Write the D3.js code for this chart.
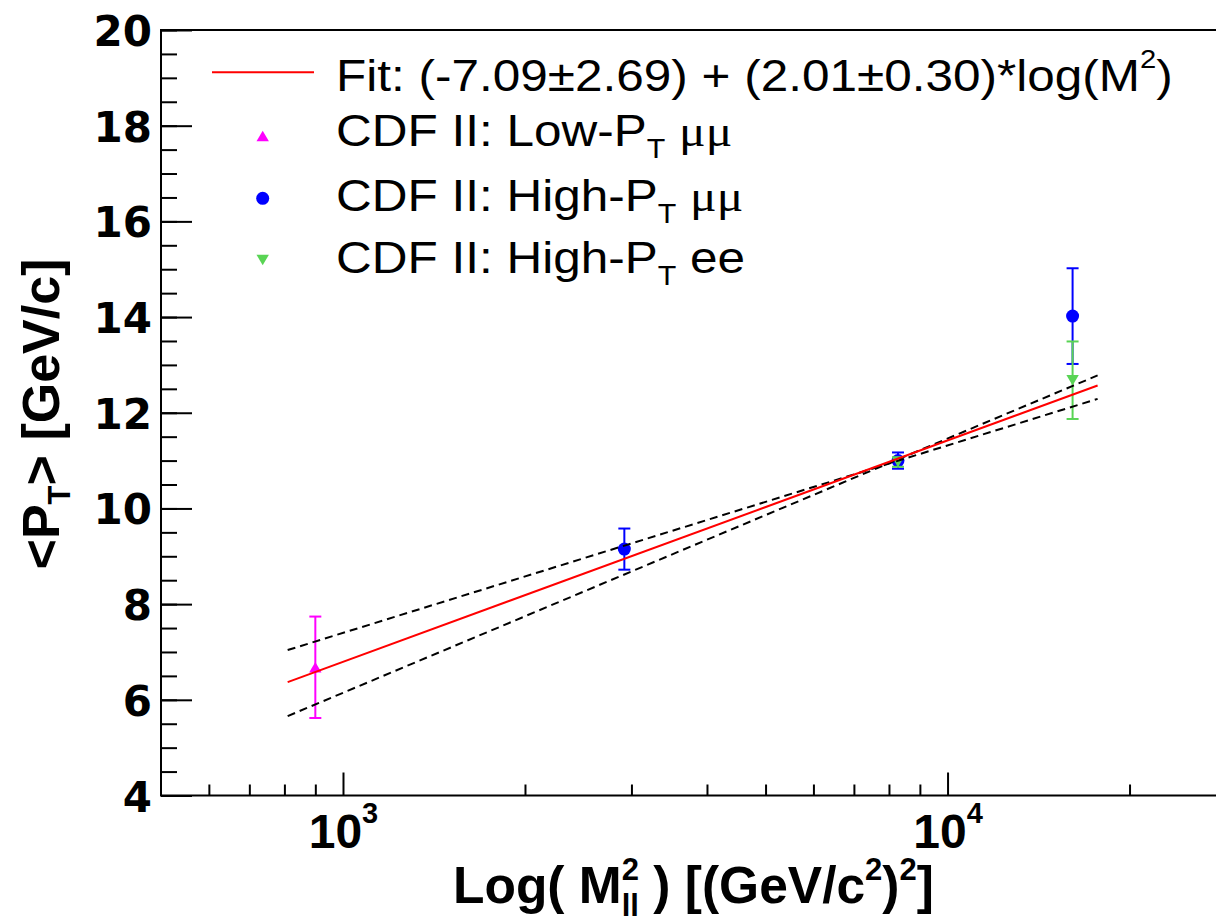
<!DOCTYPE html>
<html><head><meta charset="utf-8">
<script src="https://cdn.jsdelivr.net/npm/d3@7"></script>
<style>body{margin:0;background:#fff}svg{display:block}</style>
</head><body>
<svg id="c" width="1216" height="923"></svg>
<script>
// ---------------- data ----------------
const lowMuMuM2 = [900];
const lowMuMuPt = [6.68];
const lowMuMuErr = [1.06];

const highMuMuM2 = [2920, 8280, 16100];
const highMuMuPt = [9.15, 11.00, 14.02];
const highMuMuErr = [0.43, 0.17, 1.00];

const highEEM2 = [8280, 16100];
const highEEPt = [10.97, 12.68];
const highEEErr = [0.10, 0.81];

// fit line and its two band lines, read at the ends of the drawn range
const fitM2 = [810, 17710];
const fitPt = [6.37, 12.57];
const bandShallowPt = [7.04, 12.29];
const bandSteepPt = [5.66, 12.78];

const yMajorTicks = [4, 6, 8, 10, 12, 14, 16, 18, 20];
const yMinorTicks = d3.range(4, 20.001, 0.5);
const xMajorTicks = [1000, 10000];
const xMajorExponents = ["3", "4"];
const xMinorTicks = [600, 700, 800, 900, 2000, 3000, 4000, 5000, 6000, 7000, 8000, 9000, 20000];

const legendFit = "Fit: (-7.09\u00b12.69) + (2.01\u00b10.30)*log(M";
const legendSeries = ["CDF II: Low-P", "CDF II: High-P", "CDF II: High-P"];
const legendSuffix = ["\u03bc\u03bc", "\u03bc\u03bc", "ee"];

const colMagenta = "#ff00ff", colBlue = "#0000ff", colGreen = "#59d454", colRed = "#ff0000";

// ---------------- layout ----------------
const svg = d3.select("#c");
const pL = 161, pR = 1216, pT = 30, pB = 795.5;
const x = d3.scaleLog().domain([500, 27800]).range([pL, pR]);
const y = d3.scaleLinear().domain([4, 20]).range([pB, pT]);

// frame
svg.append("rect").attr("x", pL).attr("y", pT)
  .attr("width", pR - pL + 6).attr("height", pB - pT)
  .attr("fill", "none").attr("stroke", "#000").attr("stroke-width", 2);

// y axis
const yMinor = svg.append("g").attr("transform", `translate(${pL},0)`)
  .call(d3.axisLeft(y).tickValues(yMinorTicks).tickSize(-16).tickFormat(""));
yMinor.select(".domain").remove();
yMinor.selectAll("line").attr("stroke", "#000").attr("stroke-width", 2);

const yMajor = svg.append("g").attr("transform", `translate(${pL},0)`)
  .call(d3.axisLeft(y).tickValues(yMajorTicks).tickSize(-31).tickPadding(9).tickFormat(d3.format("d")));
yMajor.select(".domain").remove();
yMajor.selectAll("line").attr("stroke", "#000").attr("stroke-width", 2);
yMajor.selectAll("text").attr("font-family", "'DejaVu Sans'").attr("font-weight", "bold")
  .attr("font-size", 42).attr("fill", "#000").attr("dy", "0.37em");

// x axis
const xMinor = svg.append("g").attr("transform", `translate(0,${pB})`)
  .call(d3.axisBottom(x).tickValues(xMinorTicks).tickSize(-11).tickFormat(""));
xMinor.select(".domain").remove();
xMinor.selectAll("line").attr("stroke", "#000").attr("stroke-width", 2);

const xMajor = svg.append("g").attr("transform", `translate(0,${pB})`)
  .call(d3.axisBottom(x).tickValues(xMajorTicks).tickSize(-23).tickPadding(0).tickFormat(""));
xMajor.select(".domain").remove();
xMajor.selectAll("line").attr("stroke", "#000").attr("stroke-width", 2);
xMajor.selectAll(".tick text").each(function(d, i) {
  const t = d3.select(this).attr("y", 52.5).attr("dy", null)
    .attr("font-family", "'Liberation Sans', Arial, sans-serif").attr("font-weight", "bold")
    .attr("font-size", 48).attr("fill", "#000").attr("text-anchor", "middle");
  t.append("tspan").text("10");
  t.append("tspan").attr("font-size", 29).attr("dy", -25).text(xMajorExponents[i]);
});

// axis titles
const base = 903;
const xt = svg.append("text").attr("x", 453).attr("y", base)
  .attr("font-family", "'Liberation Sans', Arial, sans-serif").attr("font-weight", "bold")
  .attr("font-size", 51.5).attr("fill", "#000");
xt.append("tspan").attr("y", base).text("Log( M");
xt.append("tspan").attr("y", base + 13).attr("font-size", 31).text("ll");
xt.append("tspan").attr("y", base - 23).attr("dx", -17.2).attr("font-size", 31).text("2");
xt.append("tspan").attr("y", base).text(" ) [(GeV/c");
xt.append("tspan").attr("y", base - 23).attr("font-size", 31).text("2");
xt.append("tspan").attr("y", base).text(")");
xt.append("tspan").attr("y", base - 23).attr("font-size", 31).text("2");
xt.append("tspan").attr("y", base).text("]");

const yt = svg.append("text").attr("transform", "translate(58.5,414) rotate(-90)")
  .attr("text-anchor", "middle")
  .attr("font-family", "'Liberation Sans', Arial, sans-serif").attr("font-weight", "bold")
  .attr("font-size", 52).attr("fill", "#000");
yt.append("tspan").text("<P");
yt.append("tspan").attr("font-size", 31).attr("dy", 11).text("T");
yt.append("tspan").attr("dy", -11).text("> [GeV/c]");

// ---------------- markers ----------------
function triUp(s) { return `M0,${-s*0.85}L${s},${s*0.85}L${-s},${s*0.85}Z`; }
function triDown(s) { return `M0,${s*0.85}L${s},${-s*0.85}L${-s},${-s*0.85}Z`; }

function drawSeries(xs, ys, es, color, kind) {
  const g = svg.append("g");
  const pts = xs.map((v, i) => ({m: v, p: ys[i], e: es[i]}));
  const eb = g.selectAll(".eb").data(pts).enter().append("g")
    .attr("stroke", color).attr("stroke-width", 2);
  eb.append("line").attr("x1", d => x(d.m)).attr("x2", d => x(d.m))
    .attr("y1", d => y(d.p - d.e)).attr("y2", d => y(d.p + d.e));
  eb.append("line").attr("x1", d => x(d.m) - 6).attr("x2", d => x(d.m) + 6)
    .attr("y1", d => y(d.p + d.e)).attr("y2", d => y(d.p + d.e));
  eb.append("line").attr("x1", d => x(d.m) - 6).attr("x2", d => x(d.m) + 6)
    .attr("y1", d => y(d.p - d.e)).attr("y2", d => y(d.p - d.e));
  const mk = g.selectAll(".mk").data(pts).enter();
  if (kind === "circle") {
    mk.append("circle").attr("cx", d => x(d.m)).attr("cy", d => y(d.p)).attr("r", 6.5).attr("fill", color);
  } else {
    mk.append("path").attr("d", kind === "up" ? triUp(6.2) : triDown(6.2))
      .attr("transform", d => `translate(${x(d.m)},${y(d.p)})`).attr("fill", color);
  }
}
drawSeries(lowMuMuM2, lowMuMuPt, lowMuMuErr, colMagenta, "up");
drawSeries(highMuMuM2, highMuMuPt, highMuMuErr, colBlue, "circle");
drawSeries(highEEM2, highEEPt, highEEErr, colGreen, "down");

// fit lines
const line = d3.line().x(d => x(d[0])).y(d => y(d[1]));
svg.append("path").attr("d", line(fitM2.map((m, i) => [m, bandShallowPt[i]])))
  .attr("fill", "none").attr("stroke", "#000").attr("stroke-width", 2).attr("stroke-dasharray", "8,5");
svg.append("path").attr("d", line(fitM2.map((m, i) => [m, bandSteepPt[i]])))
  .attr("fill", "none").attr("stroke", "#000").attr("stroke-width", 2).attr("stroke-dasharray", "8,5");
svg.append("path").attr("d", line(fitM2.map((m, i) => [m, fitPt[i]])))
  .attr("fill", "none").attr("stroke", colRed).attr("stroke-width", 2);

// ---------------- legend ----------------
const lg = svg.append("g");
const sx = 1.125;
lg.append("line").attr("x1", 212).attr("x2", 314).attr("y1", 72.3).attr("y2", 72.3)
  .attr("stroke", colRed).attr("stroke-width", 2);
function legText(yb) {
  return lg.append("text").attr("transform", `translate(336,${yb}) scale(${sx},1)`)
    .attr("font-family", "'Liberation Sans', Arial, sans-serif").attr("font-size", 44).attr("fill", "#000");
}
const ft = legText(90.7);
ft.append("tspan").text(legendFit);
ft.append("tspan").attr("font-size", 26).attr("dy", -23).text("2");
ft.append("tspan").attr("dy", 23).text(")");

const rowsY = [146, 210.7, 272.7];
const markY = [136, 198.3, 260];
const kinds = ["up", "circle", "down"];
const cols = [colMagenta, colBlue, colGreen];
legendSeries.forEach((s, i) => {
  if (kinds[i] === "circle") {
    lg.append("circle").attr("cx", 262.7).attr("cy", markY[i]).attr("r", 6.5).attr("fill", cols[i]);
  } else {
    lg.append("path").attr("d", kinds[i] === "up" ? triUp(6.2) : triDown(6.2))
      .attr("transform", `translate(262.7,${markY[i]})`).attr("fill", cols[i]);
  }
  const t = legText(rowsY[i]);
  t.append("tspan").text(s);
  t.append("tspan").attr("font-size", 27).attr("dy", 12).text("T");
  t.append("tspan").attr("dy", -12).text(" ");
  t.append("tspan").attr("font-family", legendSuffix[i] === "ee" ? null : "'Liberation Serif', serif")
    .text(legendSuffix[i]);
});
</script>
</body></html>
